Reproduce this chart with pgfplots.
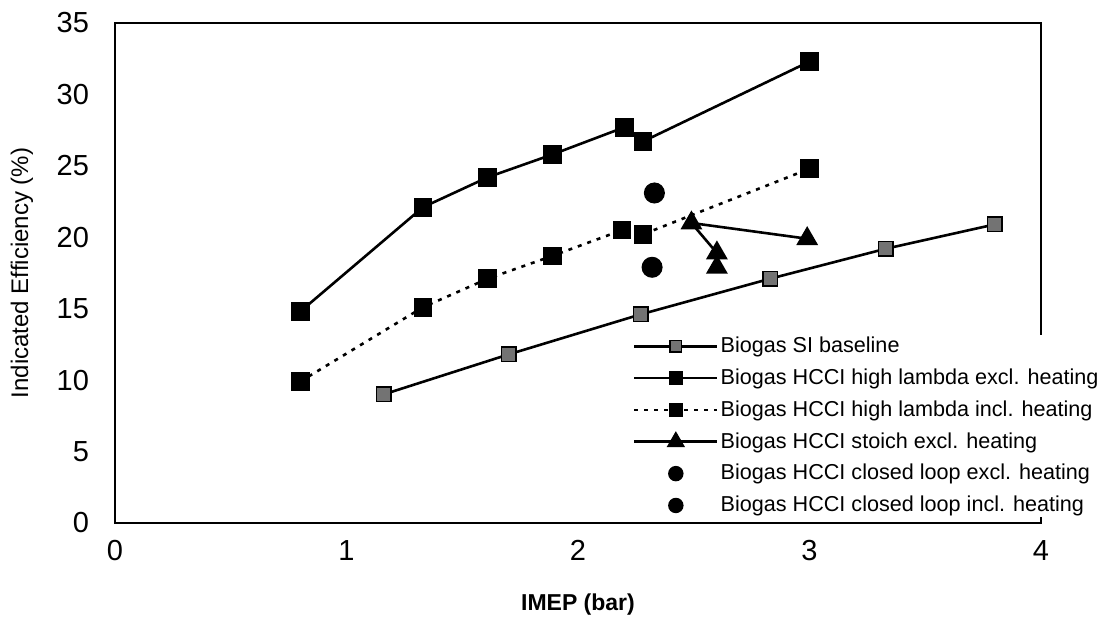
\documentclass[border=0pt]{standalone}
\usepackage{fontspec}
\setmainfont{Liberation Sans}
\usepackage{pgfplots}
\pgfplotsset{compat=1.18}

\pgfplotsset{
  legimg/.style={legend image code/.code={
    \draw[mark repeat=2,mark phase=2,##1,mark size=#1] plot coordinates {(0pt,0pt) (20.75pt,0pt) (41.5pt,0pt)};}},
}

\begin{document}
\begin{tikzpicture}
\begin{axis}[
    width=463pt, height=250pt, scale only axis,
    xmin=0, xmax=4, ymin=0, ymax=35,
    xtick={0,1,2,3,4},
    ytick={0,5,10,15,20,25,30,35},
    major tick length=0pt,
    axis line style={line width=0.8pt},
    clip=false,
    /pgf/number format/assume math mode=true,
    ticklabel style={font=\fontsize{14.5}{16}\selectfont},
    xticklabel style={yshift=-5pt},
    yticklabel style={xshift=-9.5pt},
    xlabel={IMEP (bar)},
    xlabel style={font=\bfseries\fontsize{11.5}{13}\selectfont, at={(axis description cs:0.5,-0.164)}, anchor=center},
    ylabel={Indicated Efficiency (\%)},
    ylabel style={font=\fontsize{12}{14}\selectfont, at={(axis description cs:-0.1004,0.5)}, anchor=center},
    legend style={
        at={(rel axis cs:0.559,0.377)}, anchor=north west,
        draw=none, fill=white,
        font=\fontsize{10.8}{13}\selectfont,
        row sep=4.6pt, inner sep=0pt,
        nodes={inner sep=1pt},
        cells={anchor=west},
    },
    every axis plot/.append style={line width=1.3pt, black},
]
% Biogas SI baseline
\addplot[legimg=2.8pt, mark=square*, mark size=3.6pt, mark options={fill=black!55, draw=black, line width=0.8pt}]
coordinates {
    (1.16,9.0) (1.70,11.8) (2.27,14.6) (2.83,17.1) (3.33,19.2) (3.80,20.9)
};
% Biogas HCCI high lambda excl. heating
\addplot[legimg=3pt, mark=square*, mark size=4pt, mark options={fill=black}]
coordinates {
    (0.80,14.8) (1.33,22.1) (1.61,24.2) (1.89,25.8) (2.20,27.7) (2.28,26.7) (3.00,32.3)
};
% Biogas HCCI high lambda incl. heating
\addplot[legimg=3pt, dash pattern=on 2pt off 3pt, mark=square*, mark size=4pt, mark options={solid, fill=black}]
coordinates {
    (0.80,9.9) (1.33,15.1) (1.61,17.1) (1.89,18.7) (2.19,20.5) (2.28,20.2) (3.00,24.8)
};
% Biogas HCCI stoich excl. heating
\addplot[legimg=4pt, mark=triangle*, mark size=5pt, mark options={fill=black}]
coordinates {
    (2.99,19.9) (2.49,21.0) (2.60,18.9) (2.60,17.9)
};
% closed loop excl. heating
\addplot[legimg=3.2pt, only marks, mark=*, mark size=4.6pt, mark options={fill=black}]
coordinates {(2.33,23.1)};
% closed loop incl. heating
\addplot[legimg=3.2pt, only marks, mark=*, mark size=4.6pt, mark options={fill=black}]
coordinates {(2.32,17.9)};
\legend{Biogas SI baseline,
        Biogas HCCI high lambda excl. heating,
        Biogas HCCI high lambda incl. heating,
        Biogas HCCI stoich excl. heating,
        Biogas HCCI closed loop excl. heating,
        Biogas HCCI closed loop incl. heating}
\coordinate (SW) at (rel axis cs:0,0);
\coordinate (NE) at (rel axis cs:1,1);
\end{axis}
\path ([xshift=-57.5pt,yshift=-53.5pt]SW) rectangle ([xshift=30.5pt,yshift=11.5pt]NE);
\end{tikzpicture}
\end{document}
